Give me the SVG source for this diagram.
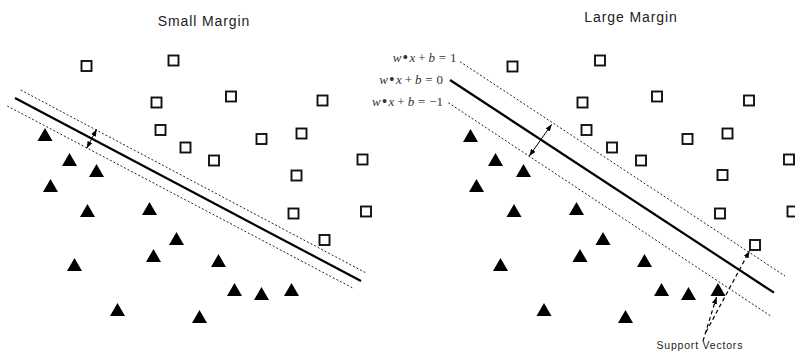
<svg xmlns="http://www.w3.org/2000/svg" xmlns:xlink="http://www.w3.org/1999/xlink" width="795" height="351" viewBox="0 0 795 351">
<style>
.title{font-family:"Liberation Sans",Arial,sans-serif;font-size:14px;fill:#222;letter-spacing:0.9px;text-anchor:middle}
.eq{font-family:"Liberation Serif","Times New Roman",serif;font-size:13px;fill:#333;text-anchor:end}
.eq .i{font-style:italic}
.eq .b{font-size:16px}
.sv{font-family:"Liberation Sans",Arial,sans-serif;font-size:10.5px;fill:#222;letter-spacing:0.8px}
.hyper{stroke:#000;stroke-width:2.2;fill:none}
.margin{stroke:#222;stroke-width:1;stroke-dasharray:2 2;fill:none}
.dbl{stroke:#000;stroke-width:1;fill:none;marker-start:url(#ah);marker-end:url(#ah)}
.svarrow{stroke:#000;stroke-width:1.2;stroke-dasharray:4 3;fill:none;marker-end:url(#ah)}
.sq{fill:#fff;stroke:#111;stroke-width:1.9}
.tri{fill:#000}
</style>
<defs>
<marker id="ah" viewBox="0 0 8 6" refX="8" refY="3" markerWidth="7" markerHeight="5.5" markerUnits="userSpaceOnUse" orient="auto-start-reverse">
<path d="M0,0 L8,3 L0,6 Z" fill="#000"/>
</marker>
<rect id="sq" class="sq" x="-5" y="-5" width="10" height="10"/>
<path id="tri" class="tri" d="M-7.5,0 L7.5,0 L0,-13 Z"/>
</defs>
<rect width="795" height="351" fill="#fff"/>

<g id="title-small"><text class="title" x="204" y="25.5">Small Margin</text></g>
<g id="title-large"><text class="title" x="631" y="22">Large Margin</text></g>

<g id="eq-labels">
<text class="eq" x="456.5" y="62"><tspan class="i">w</tspan><tspan class="b" dx="1.2" dy="1.3">•</tspan><tspan class="i" dx="1.2" dy="-1.3">x</tspan><tspan dx="3">+</tspan><tspan class="i" dx="3">b</tspan><tspan dx="3.8">=</tspan><tspan dx="3.8">1</tspan></text>
<text class="eq" x="443" y="84"><tspan class="i">w</tspan><tspan class="b" dx="1.2" dy="1.3">•</tspan><tspan class="i" dx="1.2" dy="-1.3">x</tspan><tspan dx="3">+</tspan><tspan class="i" dx="3">b</tspan><tspan dx="3.8">=</tspan><tspan dx="3.8">0</tspan></text>
<text class="eq" x="443" y="106"><tspan class="i">w</tspan><tspan class="b" dx="1.2" dy="1.3">•</tspan><tspan class="i" dx="1.2" dy="-1.3">x</tspan><tspan dx="3">+</tspan><tspan class="i" dx="3">b</tspan><tspan dx="3.8">=</tspan><tspan dx="3.8">−1</tspan></text>
</g>
<g id="support-label"><text class="sv" x="656.5" y="349">Support Vectors</text></g>

<g id="connectors">
<line class="hyper" x1="15" y1="98" x2="361" y2="281"/>
<line class="margin" x1="20.7" y1="90" x2="366.7" y2="273.3"/>
<line class="margin" x1="7.3" y1="106" x2="353.3" y2="288.3"/>
<line class="dbl" x1="96.7" y1="129.3" x2="86.7" y2="148.3"/>
<line class="hyper" x1="450" y1="80" x2="774" y2="292.7"/>
<line class="margin" x1="460" y1="61.7" x2="785" y2="276"/>
<line class="margin" x1="448.3" y1="102.7" x2="771.7" y2="316.7"/>
<line class="dbl" x1="551.7" y1="124.3" x2="529.3" y2="156"/>
<line class="svarrow" x1="703" y1="341" x2="716.5" y2="297"/>
<line class="svarrow" x1="706" y1="332" x2="749.5" y2="251"/>
</g>

<g id="small-squares">
<use id="s1" xlink:href="#sq" x="86.5" y="66"/>
<use id="s2" xlink:href="#sq" x="173.5" y="60.5"/>
<use id="s3" xlink:href="#sq" x="156.5" y="102.5"/>
<use id="s4" xlink:href="#sq" x="231" y="96.5"/>
<use id="s5" xlink:href="#sq" x="322.5" y="100.5"/>
<use id="s6" xlink:href="#sq" x="160.5" y="130"/>
<use id="s7" xlink:href="#sq" x="185.5" y="147.5"/>
<use id="s8" xlink:href="#sq" x="261.5" y="139"/>
<use id="s9" xlink:href="#sq" x="301.5" y="133.5"/>
<use id="s10" xlink:href="#sq" x="214" y="160.5"/>
<use id="s11" xlink:href="#sq" x="362.5" y="159.5"/>
<use id="s12" xlink:href="#sq" x="296.5" y="175.5"/>
<use id="s13" xlink:href="#sq" x="293.5" y="213.5"/>
<use id="s14" xlink:href="#sq" x="366" y="211.5"/>
<use id="s15" xlink:href="#sq" x="324.5" y="240"/>
</g>
<g id="small-triangles">
<use id="t1" xlink:href="#tri" x="45" y="141"/>
<use id="t2" xlink:href="#tri" x="69.5" y="166"/>
<use id="t3" xlink:href="#tri" x="96.5" y="177"/>
<use id="t4" xlink:href="#tri" x="50.5" y="192"/>
<use id="t5" xlink:href="#tri" x="87.5" y="217"/>
<use id="t6" xlink:href="#tri" x="149.5" y="215"/>
<use id="t7" xlink:href="#tri" x="176.5" y="245"/>
<use id="t8" xlink:href="#tri" x="153.5" y="262"/>
<use id="t9" xlink:href="#tri" x="74.5" y="271"/>
<use id="t10" xlink:href="#tri" x="218.5" y="267"/>
<use id="t11" xlink:href="#tri" x="234.5" y="296"/>
<use id="t12" xlink:href="#tri" x="261.5" y="300"/>
<use id="t13" xlink:href="#tri" x="291.5" y="296"/>
<use id="t14" xlink:href="#tri" x="117.5" y="316"/>
<use id="t15" xlink:href="#tri" x="199.5" y="323"/>
</g>

<g id="large-squares">
<use id="S1" xlink:href="#sq" x="512.5" y="66.5"/>
<use id="S2" xlink:href="#sq" x="600" y="60.5"/>
<use id="S3" xlink:href="#sq" x="582.5" y="102.5"/>
<use id="S4" xlink:href="#sq" x="657" y="96.5"/>
<use id="S5" xlink:href="#sq" x="749" y="100.5"/>
<use id="S6" xlink:href="#sq" x="586.5" y="130"/>
<use id="S7" xlink:href="#sq" x="612" y="147.5"/>
<use id="S8" xlink:href="#sq" x="687.5" y="139"/>
<use id="S9" xlink:href="#sq" x="727.5" y="133.5"/>
<use id="S10" xlink:href="#sq" x="641" y="160.5"/>
<use id="S11" xlink:href="#sq" x="789" y="159.5"/>
<use id="S12" xlink:href="#sq" x="722.5" y="175"/>
<use id="S13" xlink:href="#sq" x="720" y="213.5"/>
<use id="S14" xlink:href="#sq" x="792.5" y="211.5"/>
<use id="S15" xlink:href="#sq" x="755" y="245"/>
</g>
<g id="large-triangles">
<use id="T1" xlink:href="#tri" x="470.5" y="142"/>
<use id="T2" xlink:href="#tri" x="495.5" y="166"/>
<use id="T3" xlink:href="#tri" x="523.5" y="177"/>
<use id="T4" xlink:href="#tri" x="476.5" y="192"/>
<use id="T5" xlink:href="#tri" x="514" y="217"/>
<use id="T6" xlink:href="#tri" x="576.5" y="215"/>
<use id="T7" xlink:href="#tri" x="603" y="245"/>
<use id="T8" xlink:href="#tri" x="580" y="262"/>
<use id="T9" xlink:href="#tri" x="500.5" y="271"/>
<use id="T10" xlink:href="#tri" x="644.5" y="267"/>
<use id="T11" xlink:href="#tri" x="661.5" y="296"/>
<use id="T12" xlink:href="#tri" x="688.5" y="300"/>
<use id="T13" xlink:href="#tri" x="718" y="296"/>
<use id="T14" xlink:href="#tri" x="544" y="316"/>
<use id="T15" xlink:href="#tri" x="625.5" y="323"/>
</g>
</svg>
